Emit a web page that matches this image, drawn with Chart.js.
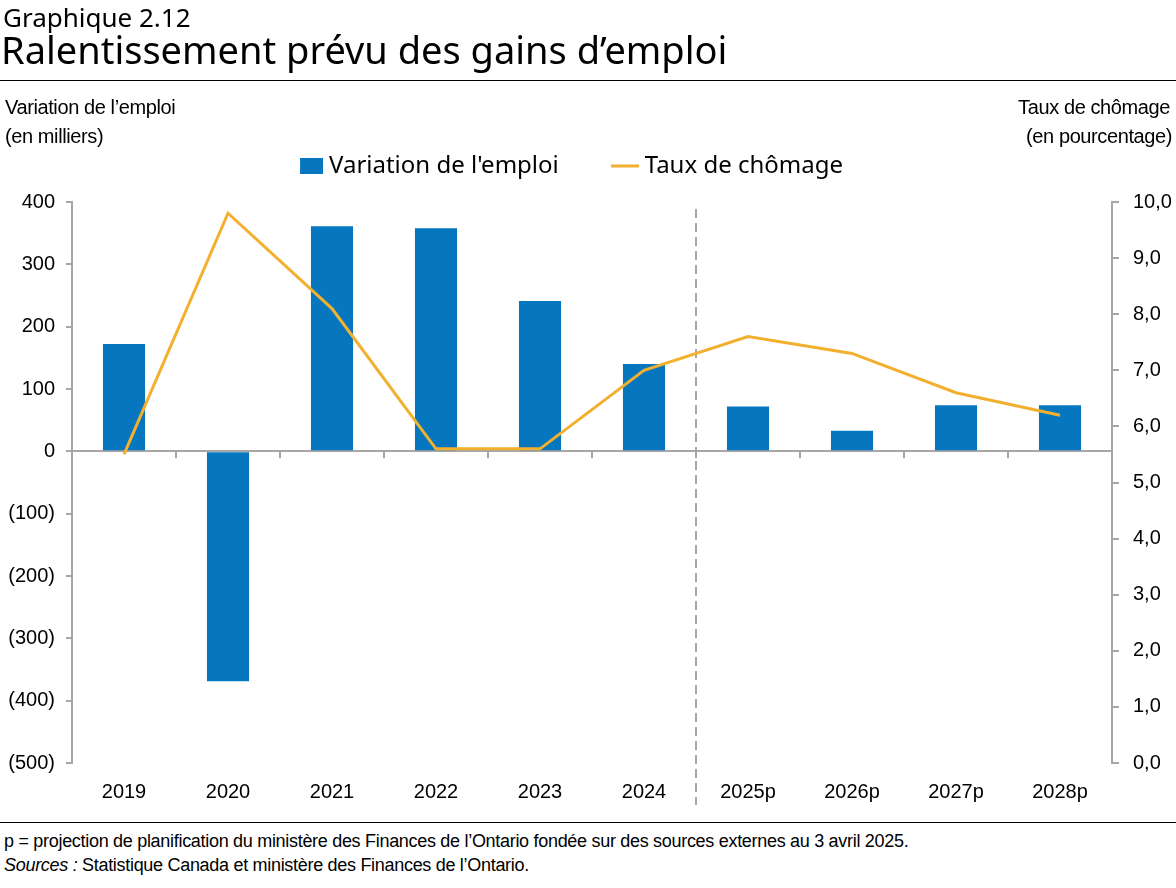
<!DOCTYPE html>
<html><head><meta charset="utf-8">
<script src="https://cdn.jsdelivr.net/npm/chart.js@4.4.0/dist/chart.umd.min.js"></script>
<style>
html,body{margin:0;padding:0;background:#fff;width:1176px;height:888px;overflow:hidden;position:relative;font-family:"Liberation Sans",Arial,sans-serif;color:#000;}
.abs{position:absolute;white-space:nowrap;z-index:2;line-height:1;}
#wrap{position:absolute;left:0;top:0;width:1176px;height:815px;z-index:1;}
.rule{position:absolute;left:0;width:1176px;height:1px;background:#000;z-index:2;}
</style></head><body>
<div class="abs" style="left:3px;top:4px;font-family:'Noto Sans';font-size:26px;">Graphique 2.12</div>
<div class="abs" style="left:1px;top:30px;font-family:'Noto Sans';font-size:38px;">Ralentissement prévu des gains d’emploi</div>
<div class="rule" style="top:80px"></div>
<div class="abs" style="left:5px;top:97px;font-size:20px;letter-spacing:-0.4px;">Variation de l’emploi</div>
<div class="abs" style="left:5px;top:126px;font-size:20px;letter-spacing:-0.4px;">(en milliers)</div>
<div class="abs" style="right:6px;top:97px;font-size:20px;letter-spacing:-0.4px;text-align:right;">Taux de chômage</div>
<div class="abs" style="right:4px;top:126px;font-size:20px;letter-spacing:-0.4px;text-align:right;">(en pourcentage)</div>
<div id="wrap"><canvas id="c"></canvas></div>
<div class="rule" style="top:822px"></div>
<div class="abs" style="left:4px;top:832px;font-size:18px;letter-spacing:-0.3px;">p = projection de planification du ministère des Finances de l’Ontario fondée sur des sources externes au 3 avril 2025.</div>
<div class="abs" style="left:4px;top:856px;font-size:18px;letter-spacing:-0.3px;"><i>Sources :</i> Statistique Canada et ministère des Finances de l’Ontario.</div>
<script>
const categories = ['2019','2020','2021','2022','2023','2024','2025p','2026p','2027p','2028p'];
const employmentChange = [172, -369, 361, 358, 241, 140, 72, 33, 74, 74];
const unemploymentRate = [5.5, 9.8, 8.1, 5.6, 5.6, 7.0, 7.6, 7.3, 6.6, 6.2];
const seriesNames = ["Variation de l'emploi", 'Taux de chômage'];
const projectionStartIndex = 6;

const BLUE = '#0677be';
const ORANGE = '#f2b02e';
const AXIS = '#a6a6a6';
const TICKFONT = {family: "'Liberation Sans', Arial, sans-serif", size: 20};

function makeSwatch(kind) {
  const c = document.createElement('canvas');
  c.width = 28; c.height = 16;
  const g = c.getContext('2d');
  if (kind === 'rect') { g.fillStyle = BLUE; g.fillRect(5, 0, 23, 16); }
  else { g.fillStyle = ORANGE; g.fillRect(0, 6.5, 28, 3); }
  return c;
}
const swatches = [makeSwatch('rect'), makeSwatch('line')];

const legendAdjust = {
  id: 'legendAdjust',
  beforeInit(chart) {
    const lg = chart.legend;
    if (!lg) return;
    const fit = lg.fit;
    lg.fit = function () {
      fit.call(this);
      this.height += 14;
      if (this.lineWidths && this.lineWidths.length) this.lineWidths[0] += 32;
    };
  }
};

const annot = {
  id: 'annot',
  beforeDatasetsDraw(chart) {
    const {ctx, chartArea, scales: {x, y}} = chart;
    const y0 = y.getPixelForValue(0);
    ctx.save();
    ctx.strokeStyle = AXIS;
    ctx.lineWidth = 2;
    for (let i = 0; i < categories.length - 1; i++) {
      const bx = (x.getPixelForValue(i) + x.getPixelForValue(i + 1)) / 2;
      ctx.beginPath(); ctx.moveTo(bx, y0); ctx.lineTo(bx, y0 + 7); ctx.stroke();
    }
    const dx = (x.getPixelForValue(projectionStartIndex - 1) + x.getPixelForValue(projectionStartIndex)) / 2;
    ctx.setLineDash([9, 5]);
    ctx.beginPath(); ctx.moveTo(dx, chartArea.top + 7); ctx.lineTo(dx, chartArea.bottom + 42); ctx.stroke();
    ctx.restore();
  }
};

new Chart(document.getElementById('c'), {
  data: {
    labels: categories,
    datasets: [
      {type: 'bar', label: seriesNames[0], data: employmentChange, backgroundColor: BLUE,
       yAxisID: 'y', order: 2, barPercentage: 0.405, categoryPercentage: 1},
      {type: 'line', label: seriesNames[1], data: unemploymentRate, borderColor: ORANGE,
       backgroundColor: ORANGE, borderWidth: 3, pointRadius: 0, tension: 0, yAxisID: 'y2', order: 1}
    ]
  },
  options: {
    responsive: true, maintainAspectRatio: false, animation: false,
    devicePixelRatio: 1,
    layout: {padding: {top: 96, left: 0, right: 0, bottom: 0}},
    plugins: {
      tooltip: {enabled: false},
      legend: {
        position: 'top',
        labels: {
          usePointStyle: true, pointStyleWidth: 16, padding: 58,
          font: {family: "'Noto Sans', sans-serif", size: 24}, color: '#000',
          generateLabels: () => seriesNames.map((t, i) => ({
            text: t, pointStyle: swatches[i], fillStyle: 'transparent', strokeStyle: 'transparent',
            lineWidth: 0, hidden: false, datasetIndex: i, fontColor: '#000'
          }))
        }
      }
    },
    scales: {
      x: {
        grid: {display: false, drawTicks: false}, border: {display: false},
        ticks: {font: TICKFONT, color: '#000', padding: 17, maxRotation: 0, autoSkip: false},
        afterFit(s) { s.height = 52; }
      },
      y: {
        position: 'left', min: -500, max: 400,
        ticks: {stepSize: 100, font: TICKFONT, color: '#000', padding: 11,
          callback: v => v < 0 ? '(' + Math.abs(v) + ')' : String(v)},
        grid: {color: c => (c.tick && c.tick.value === 0) ? AXIS : 'rgba(0,0,0,0)', lineWidth: 2,
          tickColor: AXIS, tickLength: 6, drawOnChartArea: true},
        border: {display: true, color: AXIS, width: 2},
        afterFit(s) { s.width = 72; }
      },
      y2: {
        position: 'right', min: 0, max: 10,
        ticks: {stepSize: 1, font: TICKFONT, color: '#000', padding: 14,
          callback: v => Number(v).toFixed(1).replace('.', ',')},
        grid: {drawOnChartArea: false, tickColor: AXIS, tickLength: 7, lineWidth: 2},
        border: {display: true, color: AXIS, width: 2},
        afterFit(s) { s.width = 64; }
      }
    }
  },
  plugins: [legendAdjust, annot]
});
</script>
</body></html>
